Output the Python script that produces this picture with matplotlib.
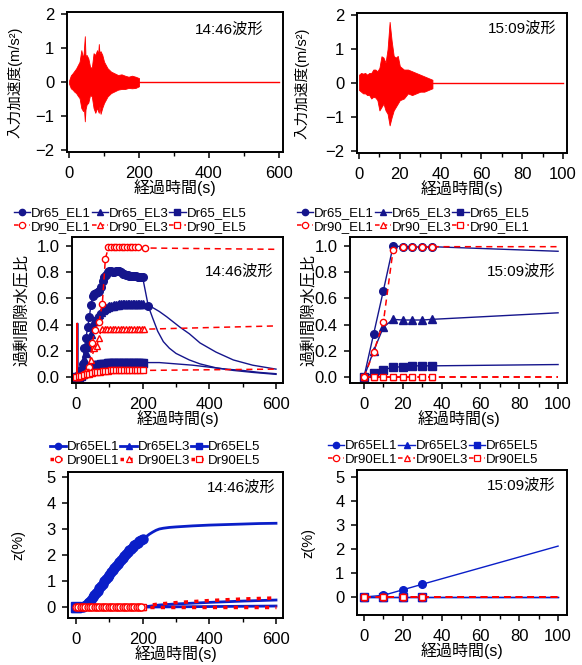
import matplotlib
matplotlib.use("Agg")
import matplotlib.pyplot as plt
from matplotlib.lines import Line2D
from matplotlib.ticker import MultipleLocator, FormatStrFormatter

plt.rcParams['font.family'] = ['Liberation Sans', 'Noto Sans CJK JP']

# --- input acceleration envelopes (m/s2) ---
w1446_t = [0, 5, 10, 15, 20, 25, 30, 35, 40, 42, 45, 47, 50, 55, 60, 65, 70, 75, 80, 83, 85, 87,
           90, 95, 100, 110, 120, 130, 140, 150, 160, 170, 180, 190, 200]
w1446_up = [0.05, 0.2, 0.26, 0.33, 0.4, 0.5, 0.6, 0.94, 0.7, 0.9, 1.35, 0.75, 0.8, 0.7, 0.45, 0.42,
            0.85, 0.8, 0.94, 0.8, 1.12, 0.85, 0.91, 0.8, 0.6, 0.41, 0.31, 0.26, 0.21, 0.23, 0.19,
            0.16, 0.19, 0.16, 0.12]
w1446_lo = [-0.05, -0.18, -0.22, -0.28, -0.32, -0.4, -0.47, -0.76, -0.85, -0.7, -1.15, -0.8, -0.66,
            -0.6, -0.37, -0.42, -0.76, -0.9, -0.75, -0.85, -0.9, -0.7, -0.93, -0.75, -0.61, -0.42,
            -0.32, -0.27, -0.22, -0.2, -0.2, -0.17, -0.18, -0.17, -0.12]
w1509_t = [0, 1, 2, 3, 4, 5, 6, 7, 8, 9, 10, 11, 12, 13, 14, 15, 16, 17, 18, 19, 20, 22, 24, 26, 28,
           30, 32, 34, 36]
w1509_up = [0.25, 0.3, 0.28, 0.3, 0.25, 0.3, 0.3, 0.4, 0.4, 0.35, 0.45, 0.79, 0.75, 0.6, 1.0, 1.8,
            1.24, 0.8, 0.75, 0.8, 0.5, 0.4, 0.4, 0.35, 0.3, 0.25, 0.2, 0.15, 0.1]
w1509_lo = [-0.2, -0.25, -0.3, -0.3, -0.35, -0.35, -0.45, -0.4, -0.42, -0.5, -0.8, -0.7, -0.6, -0.8,
            -0.9, -1.24, -1.0, -0.8, -0.7, -0.6, -0.5, -0.45, -0.3, -0.35, -0.3, -0.25, -0.25, -0.2,
            -0.15]

# --- excess pore water pressure ratio, 14:46 ---
ru46_t65 = list(range(0, 205, 5))
ru46_el1 = [0, 0, 0.02, 0.05, 0.1, 0.22, 0.3, 0.38, 0.46, 0.55, 0.62, 0.63, 0.64, 0.65, 0.66, 0.69,
            0.73, 0.76, 0.78, 0.8, 0.81, 0.81, 0.8, 0.8, 0.81, 0.81, 0.81, 0.8, 0.79, 0.79, 0.78,
            0.78, 0.77, 0.77, 0.77, 0.77, 0.77, 0.76, 0.76, 0.76, 0.76]
ru46_el1_tail_t = [217, 230, 245, 262, 280, 300, 340, 372, 420, 472, 530, 600]
ru46_el1_tail = [0.54, 0.45, 0.35, 0.27, 0.22, 0.18, 0.13, 0.1, 0.07, 0.05, 0.035, 0.02]
ru46_el3 = [0, 0, 0.02, 0.05, 0.1, 0.14, 0.18, 0.23, 0.28, 0.33, 0.39, 0.43, 0.45, 0.47, 0.48, 0.5,
            0.51, 0.52, 0.53, 0.535, 0.54, 0.54, 0.545, 0.55, 0.55, 0.55, 0.555, 0.555, 0.555, 0.56,
            0.56, 0.56, 0.56, 0.56, 0.56, 0.56, 0.56, 0.56, 0.56, 0.555, 0.555]
ru46_el3_tail_t = [220, 250, 272, 312, 340, 372, 420, 472, 530, 600]
ru46_el3_tail = [0.545, 0.5, 0.46, 0.38, 0.33, 0.26, 0.19, 0.13, 0.09, 0.06]
ru46_el5 = [0, 0, 0, 0.01, 0.02, 0.03, 0.04, 0.05, 0.07, 0.08, 0.085, 0.09, 0.09, 0.095, 0.095, 0.1,
            0.1, 0.1, 0.1, 0.105, 0.105, 0.105, 0.105, 0.105, 0.11, 0.11, 0.11, 0.11, 0.11, 0.11,
            0.11, 0.11, 0.11, 0.11, 0.11, 0.11, 0.11, 0.11, 0.11, 0.11, 0.11]
ru46_el5_tail_t = [250, 300, 350, 400, 450, 500, 550, 600]
ru46_el5_tail = [0.11, 0.1, 0.09, 0.075, 0.06, 0.05, 0.035, 0.025]
ru46_spike_t = [4, 5, 6]
ru46_spike = [0, 0.41, 0]

ru46_d90_el1_t = [0, 8, 16, 24, 32, 40, 49, 57, 69, 79, 88, 97, 105, 113, 121, 129, 137, 145, 153,
                  161, 169, 177, 185, 207, 600]
ru46_d90_el1 = [0, 0, 0.01, 0.02, 0.04, 0.08, 0.26, 0.36, 0.42, 0.56, 0.9, 0.99, 0.99, 0.99, 0.99,
                0.99, 0.99, 0.99, 0.99, 0.99, 0.99, 0.99, 0.99, 0.985, 0.975]
ru46_d90_el3_t = [0, 8, 16, 24, 32, 37, 45, 55, 62, 69, 77, 86, 94, 102, 110, 118, 126, 134, 142,
                  150, 158, 166, 174, 182, 190, 198, 205, 600]
ru46_d90_el3 = [0, 0, 0.01, 0.02, 0.03, 0.04, 0.13, 0.22, 0.24, 0.3, 0.37, 0.37, 0.37, 0.37, 0.37,
                0.37, 0.37, 0.37, 0.37, 0.37, 0.37, 0.37, 0.37, 0.37, 0.37, 0.37, 0.365, 0.39]
ru46_d90_el5_t = list(range(0, 208, 8)) + [600]
ru46_d90_el5 = [0, 0.005, 0.01, 0.015, 0.02, 0.025, 0.03, 0.035, 0.04, 0.04, 0.045, 0.045, 0.045,
                0.05, 0.05, 0.05, 0.05, 0.05, 0.05, 0.05, 0.05, 0.05, 0.05, 0.05, 0.05, 0.05, 0.06]

# --- excess pore water pressure ratio, 15:09 ---
ru09_t = [0, 5, 10, 15, 20, 25, 30, 35, 100]
ru09_el1 = [0, 0.33, 0.66, 1.0, 0.995, 0.995, 0.99, 0.995, 0.96]
ru09_el3 = [0, 0.2, 0.38, 0.44, 0.435, 0.435, 0.435, 0.44, 0.49]
ru09_el5 = [0, 0.03, 0.055, 0.075, 0.078, 0.085, 0.085, 0.085, 0.095]
ru09_d90_el1 = [0, 0.19, 0.42, 0.97, 0.99, 0.995, 0.99, 0.995, 0.995]
ru09_d90_el3 = [0, 0, 0, 0, 0, 0, 0, 0, 0]
ru09_d90_el5 = [0, 0, 0, 0, 0, 0, 0, 0, 0]

# --- settlement z (%), 14:46 ---
z46_t65 = list(range(0, 205, 5))
z46_el1 = [0, 0, 0, 0, 0, 0.03, 0.08, 0.14, 0.21, 0.29, 0.37, 0.46, 0.54, 0.63, 0.72, 0.81, 0.9,
           0.99, 1.07, 1.16, 1.24, 1.33, 1.41, 1.5, 1.58, 1.66, 1.74, 1.82, 1.9, 1.97, 2.05, 2.12,
           2.18, 2.25, 2.31, 2.37, 2.42, 2.47, 2.52, 2.56, 2.6]
z46_el1_tail_t = [210, 220, 230, 240, 250, 262, 280, 300, 350, 400, 450, 500, 550, 600]
z46_el1_tail = [2.7, 2.8, 2.88, 2.95, 3.0, 3.03, 3.06, 3.08, 3.12, 3.15, 3.17, 3.19, 3.21, 3.22]
z46_el3_t = [0, 200, 250, 300, 400, 500, 600]
z46_el3 = [0, 0, 0.08, 0.12, 0.18, 0.23, 0.27]
z46_el5_t = [0, 200, 300, 400, 500, 600]
z46_el5 = [0, 0, 0.01, 0.02, 0.03, 0.04]
z46_d90_t = list(range(0, 203, 7))
z46_d90_el1 = [0] * len(z46_d90_t)
z46_d90_el3_t = [200, 210, 250, 300, 400, 500, 600]
z46_d90_el3 = [0, 0.05, 0.12, 0.17, 0.25, 0.31, 0.35]
z46_d90_el5_t = [3.5 + t for t in range(0, 200, 7)] + [600]
z46_d90_el5 = [0] * len(z46_d90_el5_t)

# --- settlement z (%), 15:09 ---
z09_t = [0, 10, 20, 30, 100]
z09_el1 = [0, 0.07, 0.3, 0.53, 2.12]
z09_el3 = [0, 0, 0, 0, 0]
z09_el5 = [0, 0, 0, 0, 0]
z09_d90_el1 = [0, 0, 0, 0, 0]
z09_d90_el3 = [0, 0, 0, 0, 0]
z09_d90_el5 = [0, 0, 0, 0, 0]

NAVY = "#15158c"
BLUE = "#0a1ec8"
RED = "#ff0000"
W, H = 582, 665


def axes_px(fig, left, right, top, bottom):
    return fig.add_axes([left / W, 1 - bottom / H, (right - left) / W, (bottom - top) / H])


def style(ax, xmaj, xmin, ylab, ylab_x, tag, tag_x, tag_y, ylab_size=11.5):
    for s in ax.spines.values():
        s.set_linewidth(1.4)
    ax.tick_params(direction="out", length=4, width=1.1, labelsize=12)
    ax.tick_params(axis="x", pad=6)
    ax.tick_params(axis="y", pad=5)
    ax.tick_params(which="minor", direction="out", length=3, width=1.0)
    ax.xaxis.set_major_locator(MultipleLocator(xmaj))
    ax.xaxis.set_minor_locator(MultipleLocator(xmin))
    ax.set_xlabel("経過時間(s)", fontsize=11.5, labelpad=-1)
    ax.set_ylabel(ylab, fontsize=ylab_size)
    ax.yaxis.set_label_coords(ylab_x, 0.5)
    ax.text(tag_x, tag_y, tag, transform=ax.transAxes, ha="right", va="center", fontsize=11)


def legend(ax, fig, blue, red, labels, x, y, blw=1.0, rls=(0, (3, 2)), rlw=1.1):
    handles = []
    for mk in ["o", "^", "s"]:
        handles.append(Line2D([], [], color=blue, lw=blw, marker=mk, markersize=4.5))
        handles.append(Line2D([], [], color=red, lw=rlw, ls=rls, marker=mk, markersize=4.5,
                              markerfacecolor="white", markeredgewidth=0.9))
    ax.legend(handles, labels, ncol=3, loc="lower left", bbox_to_anchor=(x / W, 1 - y / H),
              bbox_transform=fig.transFigure, frameon=False, fontsize=9.5, handlelength=1.25,
              handletextpad=0.05, columnspacing=0.05, borderpad=0, borderaxespad=0,
              labelspacing=0.12)


fig = plt.figure(figsize=(W / 100, H / 100), dpi=100)

# top row: input waves
ax = axes_px(fig, 67, 283, 12, 152)
ax.fill_between(w1446_t, w1446_lo, w1446_up, color=RED, lw=0.6)
ax.plot([w1446_t[-1], 600], [0, 0], color=RED, lw=1.0)
ax.set_xlim(-6, 612)
ax.set_ylim(-2.05, 2.06)
ax.yaxis.set_major_locator(MultipleLocator(1))
style(ax, 200, 100, "入力加速度(m/s²)", -0.205, "14:46波形", 0.91, 0.87, 10.5)

ax = axes_px(fig, 357, 567, 13, 153)
ax.fill_between(w1509_t, w1509_lo, w1509_up, color=RED, lw=0.6)
ax.plot([w1509_t[-1], 100], [0, 0], color=RED, lw=1.0)
ax.set_xlim(-1, 102)
ax.set_ylim(-2.05, 2.06)
ax.yaxis.set_major_locator(MultipleLocator(1))
style(ax, 20, 10, "入力加速度(m/s²)", -0.225, "15:09波形", 0.952, 0.89, 10.5)

# middle row: pore pressure ratio
blue_kw = dict(color=NAVY, lw=1.0, markersize=5.5)
red_kw = dict(color=RED, lw=1.1, ls=(0, (4, 3)), markersize=4.5, markerfacecolor="white",
              markeredgewidth=1.0)

ax = axes_px(fig, 72, 283, 237, 383)
ax.plot(ru46_t65 + ru46_el1_tail_t, ru46_el1 + ru46_el1_tail, marker="o",
        markevery=slice(0, len(ru46_t65) + 1), **blue_kw)
ax.plot(ru46_t65 + ru46_el3_tail_t, ru46_el3 + ru46_el3_tail, marker="^",
        markevery=slice(0, len(ru46_t65)), **blue_kw)
ax.plot(ru46_t65 + ru46_el5_tail_t, ru46_el5 + ru46_el5_tail, marker="s",
        markevery=slice(0, len(ru46_t65)), **blue_kw)
ax.plot(ru46_spike_t, ru46_spike, color=NAVY, lw=1.0)
ax.plot([t - 2 for t in ru46_spike_t], ru46_spike, color=RED, lw=1.0)
ax.plot(ru46_d90_el1_t, ru46_d90_el1, marker="o", markevery=slice(0, -1), **red_kw)
ax.plot(ru46_d90_el3_t, ru46_d90_el3, marker="^", markevery=slice(0, -1), **red_kw)
ax.plot(ru46_d90_el5_t, ru46_d90_el5, marker="s", markevery=slice(0, -1), **red_kw)
ax.set_xlim(-12, 621)
ax.set_ylim(-0.046, 1.069)
ax.yaxis.set_major_locator(MultipleLocator(0.2))
ax.yaxis.set_major_formatter(FormatStrFormatter("%.1f"))
style(ax, 200, 100, "過剰間隙水圧比", -0.205, "14:46波形", 0.953, 0.762)
legend(ax, fig, NAVY, RED,
       ["Dr65_EL1", "Dr90_EL1", "Dr65_EL3", "Dr90_EL3", "Dr65_EL5", "Dr90_EL5"], 14, 233)

ax = axes_px(fig, 350, 567, 237, 383)
n09 = len(ru09_t) - 1
ax.plot(ru09_t, ru09_el1, marker="o", markevery=slice(0, n09), **blue_kw)
ax.plot(ru09_t, ru09_el3, marker="^", markevery=slice(0, n09), **blue_kw)
ax.plot(ru09_t, ru09_el5, marker="s", markevery=slice(0, n09), **blue_kw)
ax.plot(ru09_t, ru09_d90_el3, marker="^", markevery=slice(0, n09), **red_kw)
ax.plot(ru09_t, ru09_d90_el5, marker="s", markevery=slice(0, n09), **red_kw)
ax.plot(ru09_t, ru09_d90_el1, marker="o", markevery=slice(0, n09), **red_kw)
ax.set_xlim(-7.2, 104.6)
ax.set_ylim(-0.046, 1.069)
ax.yaxis.set_major_locator(MultipleLocator(0.2))
ax.yaxis.set_major_formatter(FormatStrFormatter("%.1f"))
style(ax, 20, 10, "過剰間隙水圧比", -0.155, "15:09波形", 0.945, 0.762)
legend(ax, fig, NAVY, RED,
       ["Dr65_EL1", "Dr90_EL1", "Dr65_EL3", "Dr90_EL3", "Dr65_EL5", "Dr90_EL1"], 297, 233)

# bottom row: settlement
zb_kw = dict(color=BLUE, lw=2.0, markersize=6.5)
zr_kw = dict(color=RED, lw=2.5, ls=(0, (1.2, 1.8)), markersize=5.0, markerfacecolor="white",
             markeredgewidth=1.0)

ax = axes_px(fig, 68, 283, 472, 618)
ax.plot(z46_el3_t, z46_el3, marker="^", markevery=[0], **zb_kw)
ax.plot(z46_el5_t, z46_el5, marker="s", markevery=[0], **zb_kw)
ax.plot(z46_t65 + z46_el1_tail_t, z46_el1 + z46_el1_tail, marker="o",
        markevery=slice(0, len(z46_t65)), **zb_kw)
ax.plot(z46_d90_el3_t, z46_d90_el3, marker="^", markevery=[0], **zr_kw)
ax.plot(z46_d90_el5_t, z46_d90_el5, marker="s", markevery=slice(0, -1), **zr_kw)
ax.plot(z46_d90_t, z46_d90_el1, marker="o", ls="none", color=RED, markersize=5.0,
        markerfacecolor="white", markeredgewidth=1.0)
ax.set_xlim(-24, 621)
ax.set_ylim(-0.42, 5.19)
ax.yaxis.set_major_locator(MultipleLocator(1))
style(ax, 200, 100, "z(%)", -0.2, "14:46波形", 0.967, 0.89, 10.5)
legend(ax, fig, BLUE, RED,
       ["Dr65EL1", "Dr90EL1", "Dr65EL3", "Dr90EL3", "Dr65EL5", "Dr90EL5"], 50, 467,
       blw=2.0, rls=(0, (1.0, 1.5)), rlw=2.5)

ax = axes_px(fig, 357, 567, 470, 615)
zb2 = dict(zb_kw, lw=1.0, markersize=5.5)
zr2 = dict(zr_kw, lw=1.2, ls=(0, (4, 3)))
nz = len(z09_t) - 1
ax.plot(z09_t, z09_el3, marker="^", markevery=slice(0, nz), **zb2)
ax.plot(z09_t, z09_el5, marker="s", markevery=slice(0, nz), **zb2)
ax.plot(z09_t, z09_el1, marker="o", markevery=slice(0, nz), **zb2)
ax.plot(z09_t, z09_d90_el3, marker="^", markevery=slice(0, nz), **zr2)
ax.plot(z09_t, z09_d90_el1, marker="o", markevery=slice(0, nz), **zr2)
ax.plot(z09_t, z09_d90_el5, marker="s", markevery=slice(0, nz), **zr2)
ax.set_xlim(-3.6, 104.6)
ax.set_ylim(-0.75, 5.29)
ax.yaxis.set_major_locator(MultipleLocator(1))
style(ax, 20, 10, "z(%)", -0.2, "15:09波形", 0.943, 0.89, 10.5)
legend(ax, fig, BLUE, RED,
       ["Dr65EL1", "Dr90EL1", "Dr65EL3", "Dr90EL3", "Dr65EL5", "Dr90EL5"], 328, 466)

fig.savefig("out.png", dpi=100)
